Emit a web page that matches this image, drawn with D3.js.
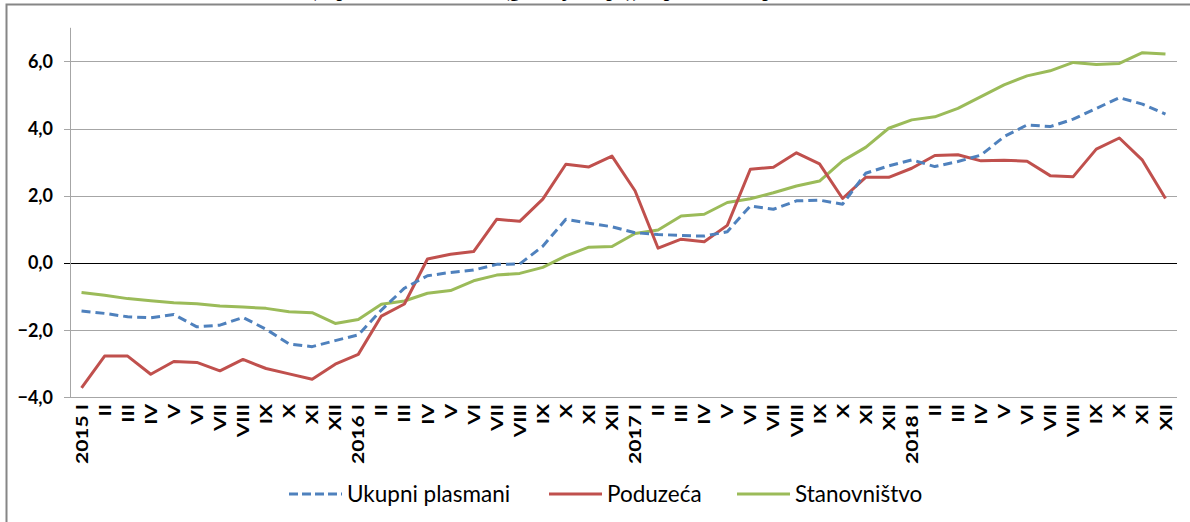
<!DOCTYPE html>
<html>
<head>
<meta charset="utf-8">
<script src="https://cdn.jsdelivr.net/npm/d3@7"></script>
<style>
  body { margin: 0; background: #fff; }
  svg { display: block; }
  .ytick { font-family: Lato, "Noto Sans", sans-serif; font-weight: bold; font-size: 18px; fill: #000; }
  .xtick { font-family: Lato, "Noto Sans", sans-serif; font-weight: bold; font-size: 21px; fill: #000; }
  .legtxt { font-family: Lato, "Noto Sans", sans-serif; font-size: 22.5px; fill: #000; }
  .title { font-family: "Liberation Serif", serif; font-weight: bold; font-size: 19px; }
</style>
</head>
<body>
<svg width="1190" height="522"></svg>
<script>
// months, years
var months = ["I","II","III","IV","V","VI","VII","VIII","IX","X","XI","XII"];
var years = ["2015","2016","2017","2018"];

var ukupni = [-1.43,-1.50,-1.60,-1.63,-1.53,-1.90,-1.85,-1.62,-1.97,-2.41,-2.49,-2.31,
              -2.14,-1.40,-0.75,-0.38,-0.28,-0.21,-0.04,-0.03,0.50,1.30,1.18,1.08,
              0.90,0.85,0.82,0.80,0.93,1.70,1.60,1.85,1.87,1.75,2.67,2.89,
              3.07,2.87,3.02,3.21,3.76,4.11,4.06,4.28,4.60,4.92,4.73,4.43];

var poduzeca = [-3.72,-2.77,-2.77,-3.31,-2.93,-2.96,-3.21,-2.87,-3.14,-3.30,-3.46,-3.01,
                -2.72,-1.58,-1.22,0.12,0.26,0.34,1.30,1.24,1.90,2.94,2.86,3.18,
                2.15,0.44,0.71,0.63,1.12,2.79,2.85,3.28,2.95,1.92,2.55,2.55,
                2.82,3.20,3.22,3.04,3.06,3.03,2.60,2.57,3.39,3.72,3.06,1.92];

var stanovnistvo = [-0.88,-0.96,-1.06,-1.12,-1.18,-1.21,-1.28,-1.31,-1.35,-1.45,-1.48,-1.80,
                    -1.68,-1.23,-1.13,-0.90,-0.82,-0.53,-0.36,-0.31,-0.13,0.21,0.47,0.49,
                    0.88,0.98,1.40,1.45,1.80,1.91,2.09,2.29,2.44,3.04,3.44,4.01,
                    4.26,4.35,4.60,4.95,5.30,5.57,5.72,5.97,5.91,5.94,6.26,6.22];

var yTicks = [-4, -2, 0, 2, 4, 6];

var seriesNames = ["Ukupni plasmani", "Poduzeća", "Stanovništvo"];
var seriesColors = ["#4f81bd", "#c0504d", "#9bbb59"];

var categories = [];
years.forEach(function (y) {
  months.forEach(function (m, j) {
    categories.push(j === 0 ? y + " " + m : m);
  });
});

var svg = d3.select("svg");

// frame (only left & top edges are in view)
svg.append("rect")
  .attr("x", 6.5).attr("y", 4.5)
  .attr("width", 1300).attr("height", 700)
  .attr("fill", "none")
  .attr("stroke", "#868686")
  .attr("stroke-width", 2);

// title, mostly above the top edge like in the source image
svg.append("text")
  .attr("class", "title")
  .attr("x", 310).attr("y", -3)
  .text("(doprinos rastu kredita (godišnja stopa)), u procentnim poenima");

var x = d3.scalePoint()
  .domain(d3.range(categories.length))
  .range([70, 1177])
  .padding(0.5);

var y = d3.scaleLinear()
  .domain([-4, 7])
  .range([397.4, 27.8]);

// gridlines
svg.append("g")
  .selectAll("line")
  .data(yTicks)
  .enter().append("line")
  .attr("x1", 64).attr("x2", 1177)
  .attr("y1", function (d) { return Math.round(y(d)) + 0.5; })
  .attr("y2", function (d) { return Math.round(y(d)) + 0.5; })
  .attr("stroke", function (d) { return d === 0 ? "#000" : "#a6a6a6"; })
  .attr("stroke-width", 1);

// y axis line
svg.append("line")
  .attr("x1", 70.5).attr("x2", 70.5)
  .attr("y1", y(7)).attr("y2", y(-4))
  .attr("stroke", "#a6a6a6");

// y tick labels
svg.append("g")
  .selectAll("text")
  .data(yTicks)
  .enter().append("text")
  .attr("class", "ytick")
  .attr("x", 53)
  .attr("y", function (d) { return y(d); })
  .attr("dy", "0.36em")
  .attr("text-anchor", "end")
  .text(function (d) { return d3.format(".1f")(d).replace(".", ","); });

// x tick labels (rotated, a bit narrower across like the original)
svg.append("g")
  .selectAll("text")
  .data(categories)
  .enter().append("text")
  .attr("class", "xtick")
  .attr("text-anchor", "end")
  .attr("transform", function (d, i) {
    return "translate(" + x(i) + ",404) rotate(-90) scale(1,0.8)";
  })
  .attr("dy", "0.36em")
  .text(function (d) { return d; });

// lines
var line = d3.line()
  .x(function (d, i) { return x(i); })
  .y(function (d) { return y(d); });

var allSeries = [ukupni, poduzeca, stanovnistvo];
// draw order: green, red, blue on top
[2, 1, 0].forEach(function (k) {
  svg.append("path")
    .datum(allSeries[k])
    .attr("d", line)
    .attr("fill", "none")
    .attr("stroke", seriesColors[k])
    .attr("stroke-width", 3)
    .attr("stroke-linejoin", "round")
    .attr("stroke-dasharray", k === 0 ? "9,5" : null);
});

// legend
var legX = [289, 549, 737];
var leg = svg.append("g")
  .selectAll("g")
  .data(seriesNames)
  .enter().append("g")
  .attr("transform", function (d, i) { return "translate(" + legX[i] + ",494)"; });

leg.append("line")
  .attr("x1", 0).attr("x2", 53)
  .attr("stroke", function (d, i) { return seriesColors[i]; })
  .attr("stroke-width", 3)
  .attr("stroke-dasharray", function (d, i) { return i === 0 ? "9,4" : null; });

leg.append("text")
  .attr("class", "legtxt")
  .attr("x", 58)
  .attr("dy", "0.35em")
  .text(function (d) { return d; });
</script>
</body>
</html>
